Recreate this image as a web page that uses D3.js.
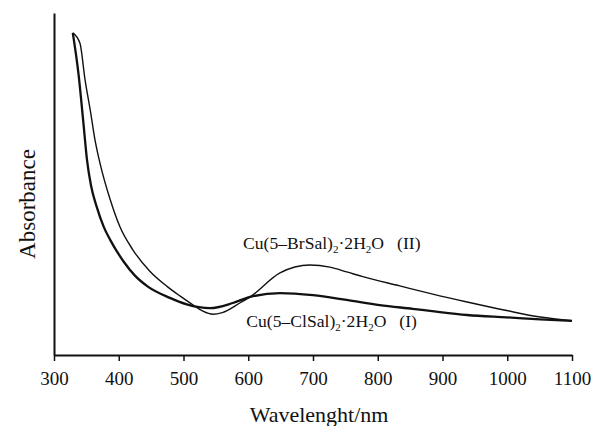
<!DOCTYPE html>
<html>
<head>
<meta charset="utf-8">
<script src="https://cdn.jsdelivr.net/npm/d3@7"></script>
<style>
    body { margin: 0; background: #fff; }
    svg text { font-family: "Liberation Serif", "Times New Roman", serif; fill: #111; }
</style>
</head>
<body>
<div id="chart"></div>
<script>
// wavelength ticks (nm)
const xTicks = [300, 400, 500, 600, 700, 800, 900, 1000, 1100];

// Cu(5-ClSal)2·2H2O (I) - thick line
const wavelengthI = [329, 338, 345, 351, 357, 366, 377, 387, 408, 425, 445, 479, 505, 541, 576, 603, 649, 700, 752, 803, 854, 881, 938, 999, 1051, 1100];
const absorbanceI = [0.942, 0.819, 0.687, 0.570, 0.497, 0.433, 0.374, 0.336, 0.272, 0.232, 0.200, 0.167, 0.148, 0.137, 0.152, 0.170, 0.181, 0.175, 0.161, 0.146, 0.135, 0.129, 0.117, 0.110, 0.104, 0.100];

// Cu(5-BrSal)2·2H2O (II) - thin line
const wavelengthII = [329, 340, 348, 356, 363, 371, 387, 402, 422, 448, 475, 495, 515, 530, 545, 560, 587, 603, 649, 695, 726, 752, 777, 834, 885, 938, 999, 1051, 1100];
const absorbanceII = [0.942, 0.912, 0.804, 0.716, 0.632, 0.561, 0.453, 0.374, 0.307, 0.245, 0.200, 0.172, 0.146, 0.128, 0.119, 0.124, 0.152, 0.170, 0.240, 0.263, 0.257, 0.243, 0.229, 0.202, 0.178, 0.155, 0.130, 0.111, 0.100];

const margin = { top: 13, right: 20, bottom: 71, left: 54 };
const width = 592 - margin.left - margin.right;
const height = 426 - margin.top - margin.bottom;

const svg = d3.select("#chart")
    .append("svg")
    .attr("width", 592)
    .attr("height", 426)
    .append("g")
    .attr("transform", `translate(${margin.left},${margin.top})`);

const x = d3.scaleLinear()
    .domain([300, 1100])
    .range([0, width]);

const y = d3.scaleLinear()
    .domain([0, 1])
    .range([height, 0]);

// axes
const xAxis = svg.append("g")
    .attr("transform", `translate(0,${height})`)
    .call(d3.axisBottom(x).tickValues(xTicks).tickFormat(d3.format("d")).tickSizeInner(6).tickSizeOuter(0).tickPadding(11));
xAxis.select(".domain").attr("stroke", "#111").attr("stroke-width", 2);
xAxis.selectAll(".tick line").attr("stroke", "#111").attr("stroke-width", 1.5);
xAxis.selectAll(".tick text").style("font-size", "19px").attr("fill", "#111");

const yAxis = svg.append("g")
    .call(d3.axisLeft(y).tickValues([]).tickSizeOuter(0));
yAxis.select(".domain").attr("stroke", "#111").attr("stroke-width", 2);

// lines
const line = d3.line()
    .x(d => x(d[0]))
    .y(d => y(d[1]))
    .curve(d3.curveMonotoneX);

const seriesI = wavelengthI.map((w, i) => [w, absorbanceI[i]]);
const seriesII = wavelengthII.map((w, i) => [w, absorbanceII[i]]);

svg.append("path")
    .datum(seriesII)
    .attr("fill", "none")
    .attr("stroke", "#111")
    .attr("stroke-width", 1.4)
    .attr("d", line);

svg.append("path")
    .datum(seriesI)
    .attr("fill", "none")
    .attr("stroke", "#111")
    .attr("stroke-width", 2.3)
    .attr("stroke-linejoin", "round")
    .attr("d", line);

// curve labels
function compoundLabel(wx, ay, halogen, roman) {
    const t = svg.append("text")
        .attr("x", x(wx))
        .attr("y", y(ay))
        .style("font-size", "17.6px");
    t.append("tspan").text(`Cu(5\u2013${halogen}Sal)`);
    t.append("tspan").attr("dy", 4).style("font-size", "11px").text("2");
    t.append("tspan").attr("dy", -4).text("\u00b72H");
    t.append("tspan").attr("dy", 4).style("font-size", "11px").text("2");
    t.append("tspan").attr("dy", -4).text("O");
    t.append("tspan").attr("dx", 13).text(`(${roman})`);
}
compoundLabel(592, 0.310, "Br", "II");
compoundLabel(597, 0.081, "Cl", "I");

// axis titles
svg.append("text")
    .attr("text-anchor", "middle")
    .attr("x", width / 2 + 6)
    .attr("y", height + 67)
    .style("font-size", "22px")
    .text("Wavelenght/nm");

svg.append("text")
    .attr("text-anchor", "middle")
    .attr("transform", `translate(${-19},${191}) rotate(-90)`)
    .style("font-size", "23px")
    .text("Absorbance");
</script>
</body>
</html>
